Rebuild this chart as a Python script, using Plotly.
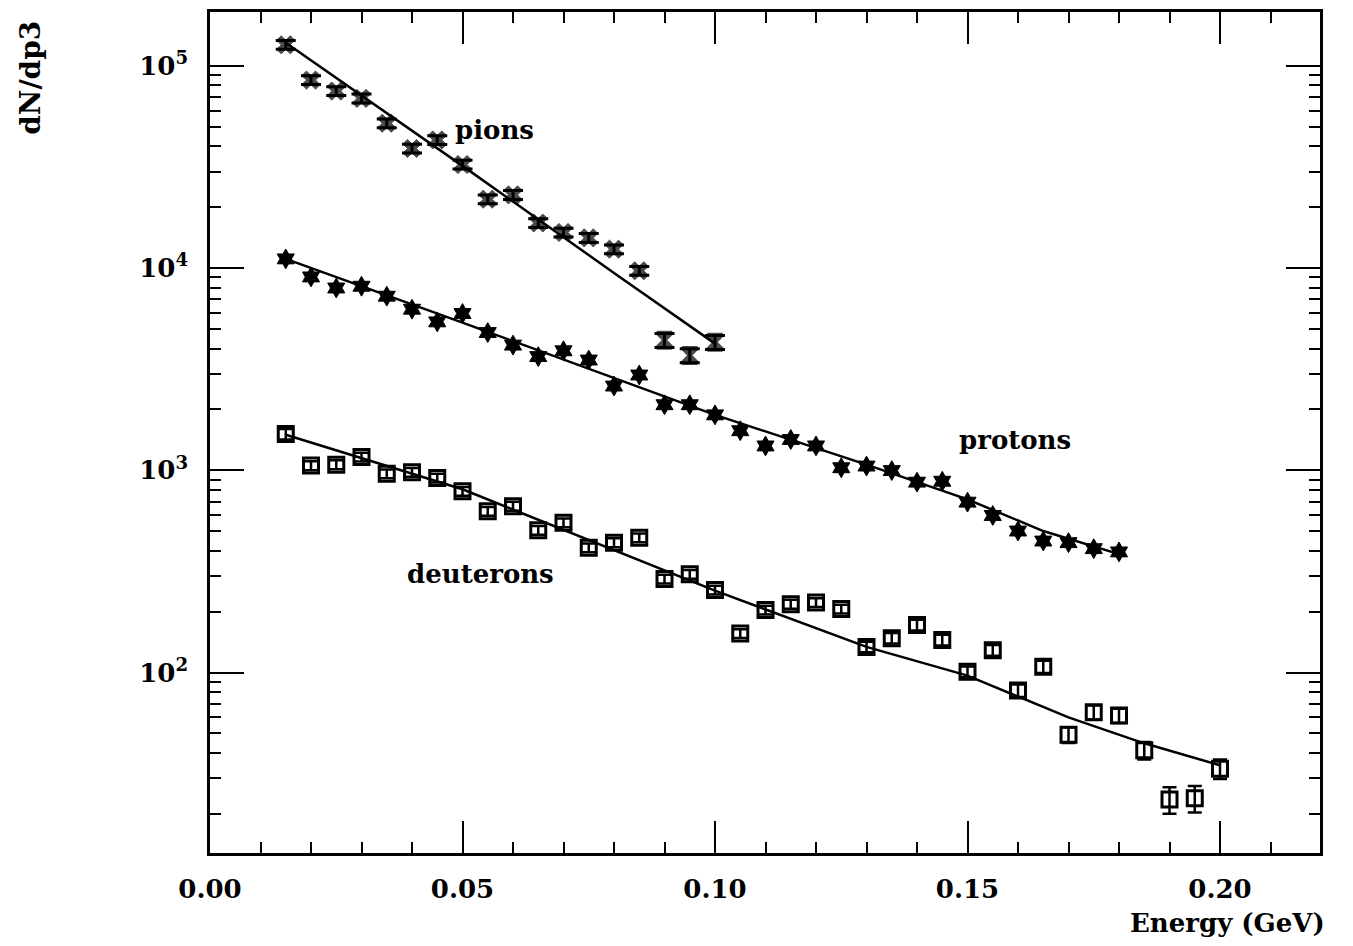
import math
import plotly.graph_objects as go

# ---- data ----
pion_x = [0.015, 0.020, 0.025, 0.030, 0.035, 0.040, 0.045, 0.050, 0.055, 0.060,
          0.065, 0.070, 0.075, 0.080, 0.085, 0.090, 0.095, 0.100]
pion_y = [127000, 85000, 75000, 69000, 52000, 39000, 43000, 32500, 21900, 23000,
          16700, 15000, 14100, 12400, 9700, 4400, 3700, 4300]
pion_err_pct = [5, 5, 5, 5, 5, 5, 5, 5, 5, 5, 5, 5, 5, 5, 5, 8, 8, 8]

pion_fit_x = [0.015, 0.050, 0.080, 0.100]
pion_fit_y = [130000, 32000, 9460, 4230]

proton_x = [0.015, 0.020, 0.025, 0.030, 0.035, 0.040, 0.045, 0.050, 0.055, 0.060,
            0.065, 0.070, 0.075, 0.080, 0.085, 0.090, 0.095, 0.100, 0.105, 0.110,
            0.115, 0.120, 0.125, 0.130, 0.135, 0.140, 0.145, 0.150, 0.155, 0.160,
            0.165, 0.170, 0.175, 0.180]
proton_y = [11100, 9040, 7970, 8130, 7260, 6260, 5420, 5960, 4800, 4160,
            3650, 3900, 3510, 2610, 2960, 2110, 2110, 1880, 1570, 1320,
            1420, 1320, 1030, 1050, 997, 874, 883, 696, 598, 501,
            447, 439, 410, 395]
proton_err_pct = [4] * 34

proton_fit_x = [0.015, 0.050, 0.100, 0.130, 0.150, 0.165, 0.180]
proton_fit_y = [11100, 5370, 1880, 1067, 718, 501, 385]

deut_x = [0.015, 0.020, 0.025, 0.030, 0.035, 0.040, 0.045, 0.050, 0.055, 0.060,
          0.065, 0.070, 0.075, 0.080, 0.085, 0.090, 0.095, 0.100, 0.105, 0.110,
          0.115, 0.120, 0.125, 0.130, 0.135, 0.140, 0.145, 0.150, 0.155, 0.160,
          0.165, 0.170, 0.175, 0.180, 0.185, 0.190, 0.195, 0.200]
deut_y = [1510, 1055, 1067, 1163, 961, 978, 916, 788, 628, 665,
          506, 550, 414, 439, 464, 290, 306, 256, 156, 204,
          218, 222, 206, 134, 148, 172, 145, 101, 129, 81.5,
          107, 49.3, 63.7, 61.3, 41.3, 23.6, 23.9, 33.5]
deut_err_pct = [6, 5, 5, 5, 5, 5, 5, 5, 5, 5,
                5, 5, 5, 5, 5, 5, 5, 5, 5, 5,
                5, 5, 5, 6, 6, 6, 6, 6, 6, 7,
                7, 9, 8, 8, 10, 15, 15, 11]

deut_fit_x = [0.015, 0.050, 0.100, 0.130, 0.150, 0.170, 0.185, 0.200]
deut_fit_y = [1500, 806, 254, 134, 96.6, 60, 44.7, 34.8]

y_tickvals = [100, 1000, 10000, 100000]
y_ticktext = ["10<sup>2</sup>", "10<sup>3</sup>", "10<sup>4</sup>", "10<sup>5</sup>"]
x_tickvals = [0.00, 0.05, 0.10, 0.15, 0.20]
x_ticktext = ["0.00", "0.05", "0.10", "0.15", "0.20"]

labels = ["pions", "protons", "deuterons"]
label_x = [0.0564, 0.1594, 0.0535]
label_y = [48400, 1420, 308]

FONT = "DejaVu Serif"

def abs_err(vals, pcts):
    return [v * p / 100.0 for v, p in zip(vals, pcts)]

fig = go.Figure()

# fit lines
for fx, fy in [(pion_fit_x, pion_fit_y), (proton_fit_x, proton_fit_y), (deut_fit_x, deut_fit_y)]:
    fig.add_trace(go.Scatter(x=fx, y=fy, mode="lines",
                             line=dict(color="black", width=2.5),
                             showlegend=False, hoverinfo="skip"))

# pions
pion_symbols = ["x"] * 15 + ["hourglass"] * 3
pion_sizes = [16] * 15 + [15] * 3
pion_lw = [1] * 15 + [4] * 3
fig.add_trace(go.Scatter(
    x=pion_x, y=pion_y, mode="markers",
    marker=dict(symbol=pion_symbols, size=pion_sizes, color="black",
                line=dict(color="black", width=pion_lw)),
    error_y=dict(type="data", array=abs_err(pion_y, pion_err_pct),
                 color="black", thickness=3, width=10),
    showlegend=False))

# protons
fig.add_trace(go.Scatter(
    x=proton_x, y=proton_y, mode="markers",
    marker=dict(symbol="hexagram", size=15, color="black",
                line=dict(color="black", width=1)),
    error_y=dict(type="data", array=abs_err(proton_y, proton_err_pct),
                 color="black", thickness=2, width=7),
    showlegend=False))

# deuterons
fig.add_trace(go.Scatter(
    x=deut_x, y=deut_y, mode="markers",
    marker=dict(symbol="square-open", size=15, color="black",
                line=dict(color="black", width=3)),
    error_y=dict(type="data", array=abs_err(deut_y, deut_err_pct),
                 color="black", thickness=2.5, width=7),
    showlegend=False))

for t, lx, ly in zip(labels, label_x, label_y):
    fig.add_annotation(x=lx, y=math.log10(ly), yref="y", xref="x", text=t, showarrow=False,
                       font=dict(family=FONT, size=26, color="black", weight="bold"),
                       xanchor="center", yanchor="middle")

fig.add_annotation(xref="paper", yref="paper", x=-0.162, y=0.922,
                   text="dN/dp3", textangle=-90, showarrow=False,
                   font=dict(family=FONT, size=28, color="black", weight="bold"),
                   xanchor="center", yanchor="middle")
fig.add_annotation(xref="paper", yref="paper", x=0.917, y=-0.083,
                   text="Energy (GeV)", showarrow=False,
                   font=dict(family=FONT, size=26, color="black", weight="bold"),
                   xanchor="center", yanchor="middle")

minor_y = [m * 10 ** e for e in range(1, 6) for m in range(2, 10)]

fig.update_xaxes(range=[0, 0.2198], showgrid=False, zeroline=False,
                 showline=True, linecolor="black", linewidth=2.5, mirror="ticks",
                 ticks="inside", ticklen=32, tickwidth=2, tickcolor="black",
                 tickmode="array", tickvals=x_tickvals, ticktext=x_ticktext,
                 ticklabelstandoff=11,
                 tickfont=dict(family=FONT, size=26, color="black", weight="bold"),
                 minor=dict(ticks="inside", ticklen=11, tickwidth=2, tickcolor="black",
                            tickmode="linear", tick0=0, dtick=0.01, showgrid=False))
fig.update_yaxes(type="log", range=[1.108, 5.266], showgrid=False, zeroline=False,
                 showline=True, linecolor="black", linewidth=2.5, mirror="ticks",
                 ticks="inside", ticklen=34, tickwidth=2, tickcolor="black",
                 tickmode="array", tickvals=y_tickvals, ticktext=y_ticktext,
                 ticklabelstandoff=14,
                 tickfont=dict(family=FONT, size=26, color="black", weight="bold"),
                 minor=dict(ticks="inside", ticklen=11, tickwidth=2, tickcolor="black",
                            tickmode="array", tickvals=minor_y, showgrid=False))

# the page adds an 8 px body margin, so the figure is sized/offset to compensate
fig.update_layout(width=1345, height=938,
                  margin=dict(l=202, r=33, t=1, b=93),
                  plot_bgcolor="white", paper_bgcolor="white",
                  showlegend=False)

fig.write_html("out.html")
